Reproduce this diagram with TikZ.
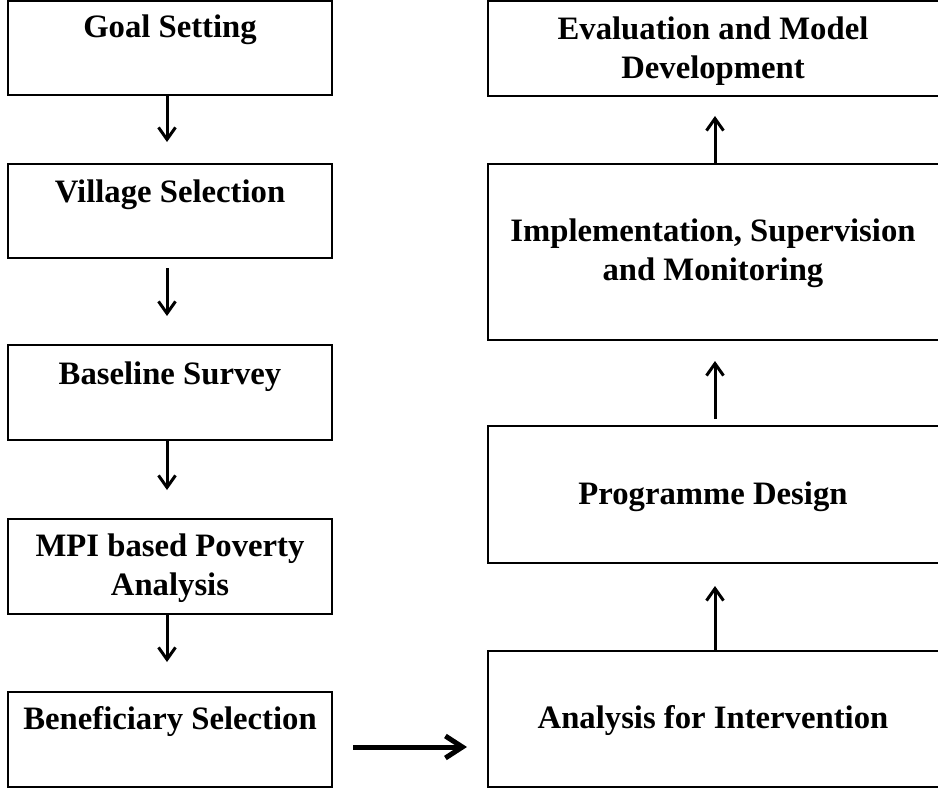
\documentclass[tikz,border=0pt]{standalone}
\usepackage{fontspec}
\setmainfont{Liberation Serif}
\usetikzlibrary{arrows.meta}
\begin{document}
\begin{tikzpicture}[x=1pt,y=-1pt,
  box/.style={draw, line width=2pt, rectangle, inner sep=0pt},
  lbl/.style={font=\bfseries\fontsize{32.7}{39}\selectfont, anchor=base, inner sep=0pt},
  arr/.style={line width=3pt, -{Straight Barb[length=12pt,width=17pt,line width=3pt]}},
  harr/.style={line width=5pt, -{Straight Barb[length=17pt,width=22pt,line width=5pt]}}]
\fill[white] (0,0) rectangle (938,792);
\useasboundingbox (0,0) rectangle (938,792);
% left column
\node[box, minimum width=324pt, minimum height=94pt] (goal) at (170,48) {};
\node[box, minimum width=324pt, minimum height=94pt] (village) at (170,211) {};
\node[box, minimum width=324pt, minimum height=95pt] (baseline) at (170,392.5) {};
\node[box, minimum width=324pt, minimum height=95pt] (mpi) at (170,566.5) {};
\node[box, minimum width=324pt, minimum height=95pt] (benef) at (170,739.5) {};
% right column
\node[box, minimum width=457pt, minimum height=95pt] (eval) at (716.5,48.5) {};
\node[box, minimum width=457pt, minimum height=176pt] (impl) at (716.5,252) {};
\node[box, minimum width=457pt, minimum height=137pt] (prog) at (716.5,494.5) {};
\node[box, minimum width=457pt, minimum height=136pt] (anal) at (716.5,719) {};
% texts
\node[lbl] (tgoal) at (170,37.3) {Goal Setting};
\node[lbl] (tvillage) at (170,202.7) {Village Selection};
\node[lbl] (tbaseline) at (170,384) {Baseline Survey};
\node[lbl] (tmpi) at (170,556) {\begin{tabular}[t]{@{}c@{}}MPI based Poverty\\ Analysis\end{tabular}};
\node[lbl] (tbenef) at (170,729.3) {Beneficiary Selection};
\node[lbl] (teval) at (713,39.3) {\begin{tabular}[t]{@{}c@{}}Evaluation and Model\\ Development\end{tabular}};
\node[lbl] (timpl) at (713,241.7) {\begin{tabular}[t]{@{}c@{}}Implementation, Supervision\\ and Monitoring\end{tabular}};
\node[lbl] (tprog) at (713,504) {Programme Design};
\node[lbl] (tanal) at (713,728.7) {Analysis for Intervention};
% connectors
\draw[arr, shorten >=21pt] ([xshift=-3pt]goal.south) -- ([xshift=-3pt]village.north);
\draw[arr, shorten <=9pt, shorten >=28pt] ([xshift=-3pt]village.south) -- ([xshift=-3pt]baseline.north);
\draw[arr, shorten >=28pt] ([xshift=-3pt]baseline.south) -- ([xshift=-3pt]mpi.north);
\draw[arr, shorten >=29pt] ([xshift=-3pt]mpi.south) -- ([xshift=-3pt]benef.north);
\draw[harr, shorten <=20pt, shorten >=20pt] ([yshift=-7.5pt]benef.east) -- ([yshift=-7.5pt]benef.east -| anal.west);
\draw[arr, shorten >=22pt] ([xshift=-1.5pt]anal.north) -- ([xshift=-1.5pt]prog.south);
\draw[arr, shorten <=6pt, shorten >=20pt] ([xshift=-1.5pt]prog.north) -- ([xshift=-1.5pt]impl.south);
\draw[arr, shorten >=19pt] ([xshift=-1.5pt]impl.north) -- ([xshift=-1.5pt]eval.south);
\end{tikzpicture}
\end{document}
